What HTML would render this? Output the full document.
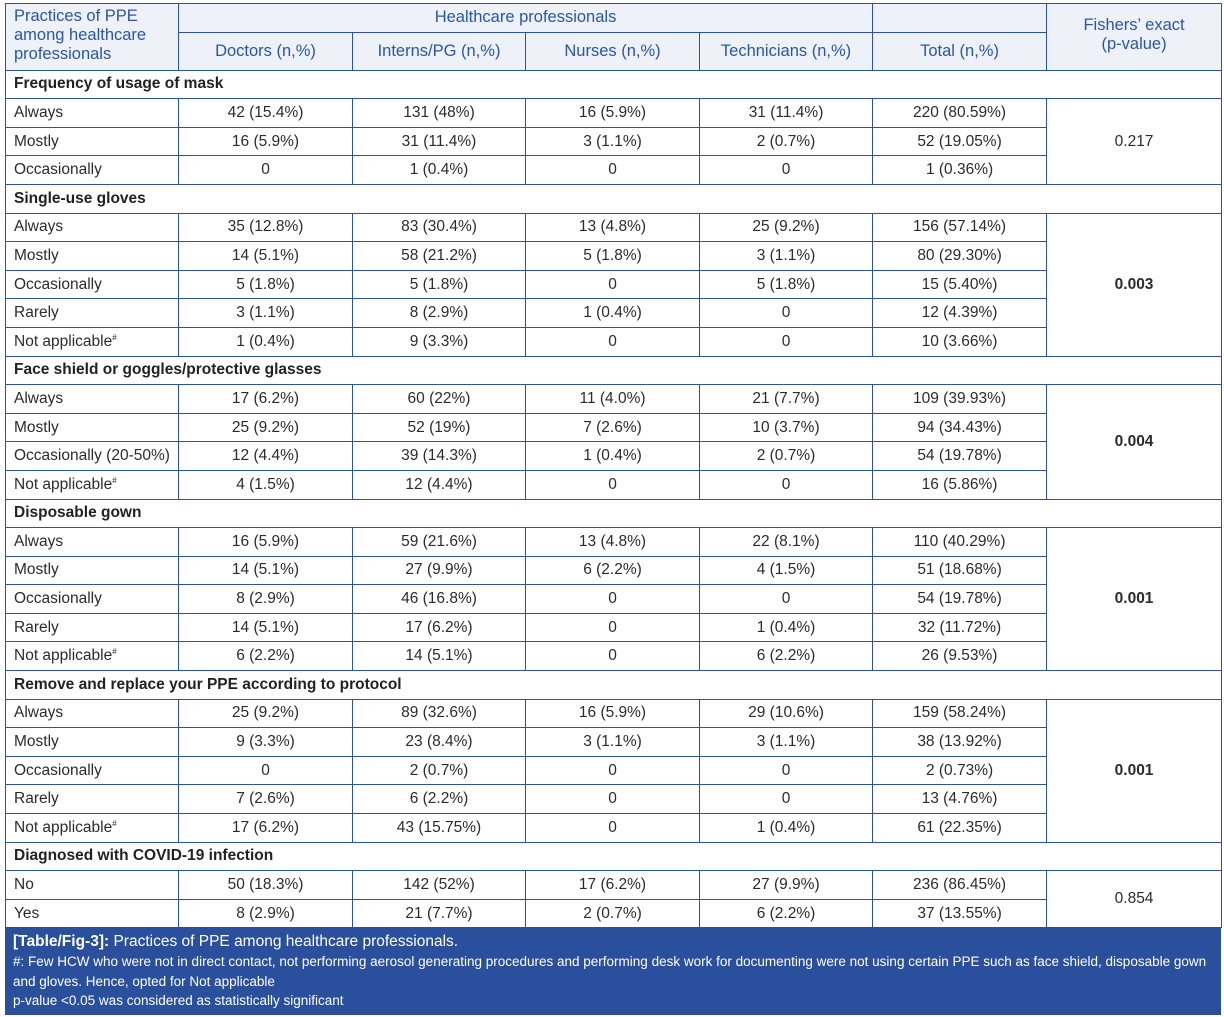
<!DOCTYPE html>
<html><head><meta charset="utf-8"><style>
html,body{margin:0;padding:0;background:#fff;width:1224px;height:1017px;overflow:hidden}
table{position:absolute;left:5px;top:3px;border-collapse:collapse;table-layout:fixed;width:1216px;font-family:"Liberation Sans",sans-serif;font-size:15.5px;color:#2b2b2b}
td{border:1.5px solid #2d52a3;padding:0 8px;height:27.6px;text-align:center;white-space:nowrap;overflow:hidden}
td.l{text-align:left}
tr.sec td{text-align:left;font-weight:bold;color:#222}
td.h{background:#eef1f8;color:#2a56a6;font-size:16.5px;line-height:19px}
td.b{font-weight:bold}
.foot{position:absolute;left:5px;top:927px;width:1216px;height:88px;background:#2a4f9d;color:#fff;font-family:"Liberation Sans",sans-serif;box-sizing:border-box;padding:5px 8px}
.foot .t{font-size:15.5px;line-height:20px}
.foot .s{font-size:13.5px;line-height:19.5px}
sup{font-size:8px}
</style></head><body>
<table>
<colgroup><col style="width:173px"><col style="width:174px"><col style="width:173px"><col style="width:174px"><col style="width:173px"><col style="width:174px"><col style="width:175px"></colgroup>
<tr><td class="h l" rowspan="2" style="vertical-align:top;padding-top:3px;white-space:normal">Practices of PPE among healthcare professionals</td><td class="h" colspan="4" style="height:24px">Healthcare professionals</td><td class="h"></td><td class="h" rowspan="2" style="vertical-align:top;padding-top:12px">Fishers’ exact<br>(p-value)</td></tr>
<tr><td class="h" style="height:37px">Doctors (n,%)</td><td class="h">Interns/PG (n,%)</td><td class="h">Nurses (n,%)</td><td class="h">Technicians (n,%)</td><td class="h">Total (n,%)</td></tr>
<tr class="sec"><td colspan="7">Frequency of usage of mask</td></tr>
<tr><td class="l">Always</td><td>42 (15.4%)</td><td>131 (48%)</td><td>16 (5.9%)</td><td>31 (11.4%)</td><td>220 (80.59%)</td><td rowspan="3">0.217</td></tr>
<tr><td class="l">Mostly</td><td>16 (5.9%)</td><td>31 (11.4%)</td><td>3 (1.1%)</td><td>2 (0.7%)</td><td>52 (19.05%)</td></tr>
<tr><td class="l">Occasionally</td><td>0</td><td>1 (0.4%)</td><td>0</td><td>0</td><td>1 (0.36%)</td></tr>
<tr class="sec"><td colspan="7">Single-use gloves</td></tr>
<tr><td class="l">Always</td><td>35 (12.8%)</td><td>83 (30.4%)</td><td>13 (4.8%)</td><td>25 (9.2%)</td><td>156 (57.14%)</td><td rowspan="5" class="b">0.003</td></tr>
<tr><td class="l">Mostly</td><td>14 (5.1%)</td><td>58 (21.2%)</td><td>5 (1.8%)</td><td>3 (1.1%)</td><td>80 (29.30%)</td></tr>
<tr><td class="l">Occasionally</td><td>5 (1.8%)</td><td>5 (1.8%)</td><td>0</td><td>5 (1.8%)</td><td>15 (5.40%)</td></tr>
<tr><td class="l">Rarely</td><td>3 (1.1%)</td><td>8 (2.9%)</td><td>1 (0.4%)</td><td>0</td><td>12 (4.39%)</td></tr>
<tr><td class="l">Not applicable<sup>#</sup></td><td>1 (0.4%)</td><td>9 (3.3%)</td><td>0</td><td>0</td><td>10 (3.66%)</td></tr>
<tr class="sec"><td colspan="7">Face shield or goggles/protective glasses</td></tr>
<tr><td class="l">Always</td><td>17 (6.2%)</td><td>60 (22%)</td><td>11 (4.0%)</td><td>21 (7.7%)</td><td>109 (39.93%)</td><td rowspan="4" class="b">0.004</td></tr>
<tr><td class="l">Mostly</td><td>25 (9.2%)</td><td>52 (19%)</td><td>7 (2.6%)</td><td>10 (3.7%)</td><td>94 (34.43%)</td></tr>
<tr><td class="l">Occasionally (20-50%)</td><td>12 (4.4%)</td><td>39 (14.3%)</td><td>1 (0.4%)</td><td>2 (0.7%)</td><td>54 (19.78%)</td></tr>
<tr><td class="l">Not applicable<sup>#</sup></td><td>4 (1.5%)</td><td>12 (4.4%)</td><td>0</td><td>0</td><td>16 (5.86%)</td></tr>
<tr class="sec"><td colspan="7">Disposable gown</td></tr>
<tr><td class="l">Always</td><td>16 (5.9%)</td><td>59 (21.6%)</td><td>13 (4.8%)</td><td>22 (8.1%)</td><td>110 (40.29%)</td><td rowspan="5" class="b">0.001</td></tr>
<tr><td class="l">Mostly</td><td>14 (5.1%)</td><td>27 (9.9%)</td><td>6 (2.2%)</td><td>4 (1.5%)</td><td>51 (18.68%)</td></tr>
<tr><td class="l">Occasionally</td><td>8 (2.9%)</td><td>46 (16.8%)</td><td>0</td><td>0</td><td>54 (19.78%)</td></tr>
<tr><td class="l">Rarely</td><td>14 (5.1%)</td><td>17 (6.2%)</td><td>0</td><td>1 (0.4%)</td><td>32 (11.72%)</td></tr>
<tr><td class="l">Not applicable<sup>#</sup></td><td>6 (2.2%)</td><td>14 (5.1%)</td><td>0</td><td>6 (2.2%)</td><td>26 (9.53%)</td></tr>
<tr class="sec"><td colspan="7">Remove and replace your PPE according to protocol</td></tr>
<tr><td class="l">Always</td><td>25 (9.2%)</td><td>89 (32.6%)</td><td>16 (5.9%)</td><td>29 (10.6%)</td><td>159 (58.24%)</td><td rowspan="5" class="b">0.001</td></tr>
<tr><td class="l">Mostly</td><td>9 (3.3%)</td><td>23 (8.4%)</td><td>3 (1.1%)</td><td>3 (1.1%)</td><td>38 (13.92%)</td></tr>
<tr><td class="l">Occasionally</td><td>0</td><td>2 (0.7%)</td><td>0</td><td>0</td><td>2 (0.73%)</td></tr>
<tr><td class="l">Rarely</td><td>7 (2.6%)</td><td>6 (2.2%)</td><td>0</td><td>0</td><td>13 (4.76%)</td></tr>
<tr><td class="l">Not applicable<sup>#</sup></td><td>17 (6.2%)</td><td>43 (15.75%)</td><td>0</td><td>1 (0.4%)</td><td>61 (22.35%)</td></tr>
<tr class="sec"><td colspan="7">Diagnosed with COVID-19 infection</td></tr>
<tr><td class="l">No</td><td>50 (18.3%)</td><td>142 (52%)</td><td>17 (6.2%)</td><td>27 (9.9%)</td><td>236 (86.45%)</td><td rowspan="2">0.854</td></tr>
<tr><td class="l">Yes</td><td>8 (2.9%)</td><td>21 (7.7%)</td><td>2 (0.7%)</td><td>6 (2.2%)</td><td>37 (13.55%)</td></tr>
</table>
<div class="foot">
<div class="t"><b>[Table/Fig-3]:</b> Practices of PPE among healthcare professionals.</div>
<div class="s">#: Few HCW who were not in direct contact, not performing aerosol generating procedures and performing desk work for documenting were not using certain PPE such as face shield, disposable gown<br>and gloves. Hence, opted for Not applicable<br>p-value &lt;0.05 was considered as statistically significant</div>
</div>
</body></html>
